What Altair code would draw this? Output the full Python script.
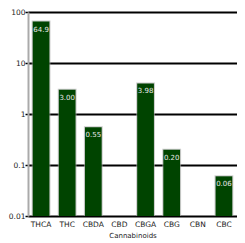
import altair as alt
import pandas as pd

categories = ["THCA", "THC", "CBDA", "CBD", "CBGA", "CBG", "CBN", "CBC"]
values = [64.9, 3.00, 0.55, None, 3.98, 0.20, None, 0.06]
labels = ["64.9", "3.00", "0.55", "", "3.98", "0.20", "", "0.06"]
ytick_values = [0.01, 0.1, 1, 10, 100]

df = pd.DataFrame({"cat": categories, "value": values, "label": labels})

x = alt.X("cat:N", sort=categories, title="Cannabinoids",
          scale=alt.Scale(domain=categories, paddingInner=0.2, paddingOuter=0.1),
          axis=alt.Axis(labelAngle=0, ticks=False, domain=False, labelFontSize=7.5,
                        labelColor="#222", titleFontSize=7, titleFontWeight="normal",
                        titleColor="#222", labelPadding=4, titlePadding=4))
y = alt.Y("value:Q", title=None,
          scale=alt.Scale(type="log", domain=[0.01, 100], nice=False),
          axis=alt.Axis(values=ytick_values, format="~g", grid=True, gridColor="#000",
                        gridWidth=2, gridOpacity=1, tickColor="#000", tickSize=3,
                        tickWidth=1.5, domainColor="#aaa", domainWidth=2,
                        labelFontSize=7.5, labelColor="#222", labelPadding=0))

base = alt.Chart(df).transform_filter("datum.value > 0")

shadow = base.mark_bar(color="#aaa", opacity=0.6, width={"band": 0.9}, yOffset=-1).encode(
    x=x, y=y, y2=alt.datum(0.01))
bars = base.mark_bar(color="#004400", width={"band": 0.8}).encode(
    x=x, y=y, y2=alt.datum(0.01))
text = base.mark_text(color="#e8e8e8", fontSize=7, baseline="top", dy=4).encode(
    x=x, y=y, text="label:N")

chart = (shadow + bars + text).properties(width=209, height=204).configure_view(
    stroke="#aaa", strokeWidth=2).configure(font="DejaVu Sans", padding=0)

chart.save("out.html", embed_options={"renderer": "svg", "actions": False})
